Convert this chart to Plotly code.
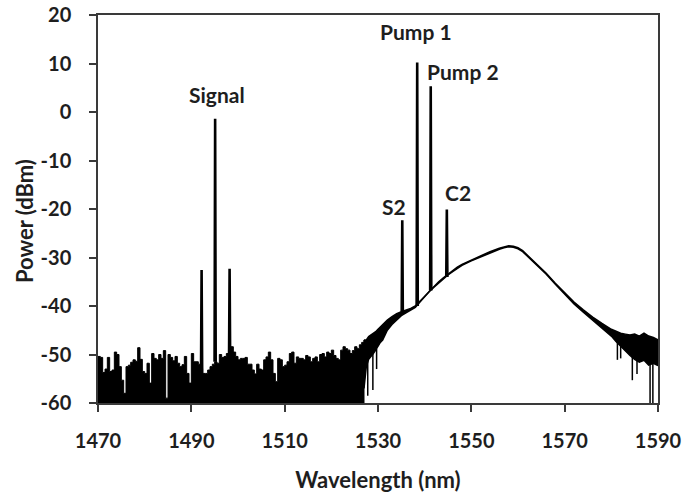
import numpy as np
import plotly.graph_objects as go

# ---------------- data ----------------
X_RANGE = [1470, 1590]
Y_RANGE = [-60, 20]
x_ticks = [1470, 1490, 1510, 1530, 1550, 1570, 1590]
y_ticks = [-60, -50, -40, -30, -20, -10, 0, 10, 20]
y_tick_text = ["-60", "-50", "-40", "-30", "-20", "-10", "0", "10", "20"]

# noise floor (top envelope), sampled every 0.5 nm from 1470 nm
noise_start = 1470.0
noise_step = 0.5
noise_top = [
    -50.4, -50.6, -53.7, -53.0, -50.6, -53.5, -53.2, -49.5, -50.0, -52.5,
    -55.3, -58.0, -52.5, -52.2, -51.6, -51.1, -51.4, -48.6, -51.0, -53.5,
    -53.9, -51.8, -55.9, -49.8, -50.8, -51.1, -50.0, -50.8, -49.2, -59.0,
    -50.0, -50.6, -51.3, -50.4, -51.8, -52.5, -52.1, -50.4, -53.9, -55.9,
    -49.8, -51.5, -51.5, -52.0, -52.8, -53.9, -53.9, -53.2, -52.5, -52.0,
    -51.5, -51.8, -50.0, -50.6, -50.4, -49.8, -50.5, -48.4, -49.5, -50.4,
    -51.1, -50.8, -50.8, -50.6, -52.0, -52.0, -53.2, -54.0, -52.0, -53.0,
    -53.2, -51.1, -50.5, -49.5, -51.1, -53.9, -55.6, -50.8, -51.1, -52.5,
    -52.2, -51.5, -49.8, -49.5, -51.8, -50.5, -50.8, -50.8, -51.1, -50.2,
    -50.5, -51.5, -50.8, -50.5, -51.5, -50.0, -49.8, -50.5, -49.5, -49.8,
    -49.1, -50.2, -50.8, -51.1, -49.1, -48.4, -48.8, -49.1, -49.8, -49.2,
    -48.4, -48.8, -48.0, -47.5, -47.0,
]

# amplified spontaneous emission hump: upper / lower edge of the trace
ase_wl = [1527.0, 1527.5, 1528.0, 1528.5, 1529.0, 1529.5, 1530.0, 1530.5, 1531.0,
          1532.0, 1533.0, 1534.0, 1535.0, 1536.0, 1537.0, 1538.0, 1539.0, 1540.0,
          1541.0, 1542.0, 1543.0, 1544.0, 1545.0, 1546.0, 1547.0, 1548.0, 1550.0,
          1552.0, 1554.0, 1556.0, 1557.0, 1558.0, 1559.0, 1560.0, 1561.0, 1562.0,
          1563.0, 1564.0, 1565.0, 1566.0, 1568.0, 1570.0, 1572.0, 1574.0, 1576.0,
          1578.0, 1579.0, 1580.0, 1581.0, 1582.0, 1583.0, 1584.0, 1585.0, 1586.0,
          1587.0, 1588.0, 1589.0, 1590.0]
ase_upper = [-47.0, -47.0, -46.3, -46.0, -45.6, -45.3, -44.8, -44.3, -44.0,
             -42.9, -42.2, -41.6, -41.2, -40.9, -40.5, -40.0, -39.0, -37.8,
             -36.8, -35.9, -35.0, -34.2, -33.4, -32.7, -32.0, -31.4, -30.5,
             -29.7, -28.8, -28.1, -27.8, -27.6, -27.7, -28.0, -28.6, -29.5,
             -30.4, -31.3, -32.2, -33.2, -35.3, -37.3, -39.2, -40.8, -42.3,
             -43.6, -44.2, -44.8, -45.2, -45.6, -45.8, -46.0, -45.8, -46.2,
             -45.6, -46.2, -46.5, -47.0]
ase_lower = [-57.0, -52.5, -51.0, -50.5, -49.8, -49.1, -48.2, -47.5, -47.0,
             -45.0, -43.8, -42.8, -42.0, -41.4, -40.9, -40.3, -39.2, -38.0,
             -37.0, -36.1, -35.2, -34.4, -33.6, -32.9, -32.2, -31.6, -30.7,
             -29.9, -29.0, -28.3, -28.0, -27.8, -27.9, -28.2, -28.8, -29.7,
             -30.6, -31.5, -32.4, -33.4, -35.5, -37.6, -39.6, -41.3, -42.9,
             -44.5, -45.3, -46.2, -47.3, -48.3, -49.2, -50.2, -51.0, -51.6,
             -51.2, -52.2, -51.8, -52.3]

# single-sample noise dips below the trace
dip_wl = [1527.8, 1528.9, 1529.7, 1581.3, 1582.0, 1584.5, 1585.5, 1588.3, 1588.9]
dip_from = [-50.0, -49.5, -48.8, -47.0, -48.0, -50.0, -50.5, -51.5, -51.5]
dip_to = [-58.5, -57.3, -53.0, -51.1, -50.8, -55.3, -54.0, -60.0, -60.0]

# discrete spectral lines
line_wl = [1492.2, 1495.1, 1498.2, 1535.2, 1538.4, 1541.3, 1544.75]
line_top = [-32.6, -1.4, -32.3, -22.3, 10.2, 5.3, -20.1]
line_base = [-52.8, -51.5, -50.5, -41.2, -40.0, -36.8, -34.0]

# text labels
label_text = ["Signal", "Pump 1", "Pump 2", "S2", "C2"]
label_wl = [1495.6, 1538.2, 1548.2, 1533.5, 1547.2]
label_dbm = [3.7, 16.5, 8.3, -19.4, -16.5]

# ---------------- figure ----------------
FONT = "Lato"
INK = "#1e1e1e"
AXIS = "#3a3a3a"
LINE_HALF = 0.12

noise_wl = noise_start + noise_step * np.arange(len(noise_top))

fig = go.Figure()

# noise floor, filled down to the axis bottom
fig.add_trace(go.Scatter(
    x=list(noise_wl) + [noise_wl[-1], noise_wl[0]],
    y=list(noise_top) + [Y_RANGE[0], Y_RANGE[0]],
    mode="lines", line=dict(color="black", width=1, shape="hv"),
    fill="toself", fillcolor="black", hoverinfo="skip", showlegend=False))

# ASE hump band
fig.add_trace(go.Scatter(x=ase_wl, y=ase_lower, mode="lines",
                         line=dict(color="black", width=1.5),
                         hoverinfo="skip", showlegend=False))
fig.add_trace(go.Scatter(x=ase_wl, y=ase_upper, mode="lines",
                         line=dict(color="black", width=1.5),
                         fill="tonexty", fillcolor="black",
                         hoverinfo="skip", showlegend=False))

# dips
dx, dy = [], []
for w, a, b in zip(dip_wl, dip_from, dip_to):
    dx += [w, w, None]
    dy += [a, b, None]
fig.add_trace(go.Scatter(x=dx, y=dy, mode="lines",
                         line=dict(color="black", width=1.5),
                         hoverinfo="skip", showlegend=False))

# spectral lines
lx, ly = [], []
for w, t, b in zip(line_wl, line_top, line_base):
    lx += [w - LINE_HALF, w, w + LINE_HALF, None]
    ly += [b, t, b, None]
fig.add_trace(go.Scatter(x=lx, y=ly, mode="lines",
                         line=dict(color="black", width=2.6),
                         hoverinfo="skip", showlegend=False))

for t, w, p in zip(label_text, label_wl, label_dbm):
    fig.add_annotation(x=w, y=p, xref="x", yref="y", text=t, showarrow=False,
                       font=dict(family=FONT, size=21, color=INK, weight="bold"))

fig.add_annotation(x=-0.132, y=0.469, xref="paper", yref="paper",
                   xanchor="center", yanchor="middle",
                   text="Power (dBm)", textangle=-90, showarrow=False,
                   font=dict(family=FONT, size=22, color=INK, weight="bold"))

axis_common = dict(showgrid=False, zeroline=False, showline=True, linecolor=AXIS,
                   linewidth=1.5, mirror=True, ticks="outside", ticklen=7,
                   tickwidth=1.5, tickcolor=AXIS, automargin=False,
                   tickfont=dict(family=FONT, size=20, color=INK, weight="bold"))

fig.update_xaxes(range=X_RANGE, tickvals=x_ticks, ticklabelstandoff=12,
                 title=dict(text="Wavelength (nm)", standoff=22,
                            font=dict(family=FONT, size=22, color=INK, weight="bold")),
                 **axis_common)
fig.update_yaxes(range=Y_RANGE, tickvals=y_ticks, ticktext=y_tick_text,
                 ticklabelstandoff=14, **axis_common)

fig.update_layout(width=688, height=494, margin=dict(l=98, r=30, t=15, b=91),
                  paper_bgcolor="white", plot_bgcolor="white")

fig.write_html("out.html")
